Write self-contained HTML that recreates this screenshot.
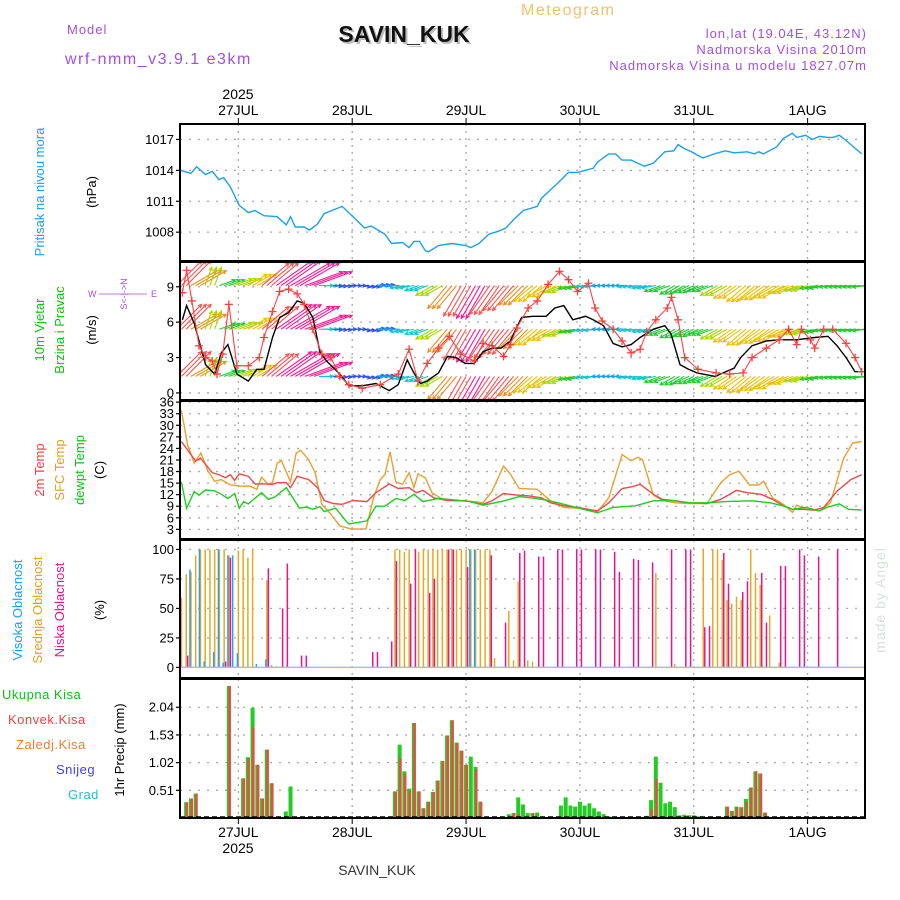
<!DOCTYPE html>
<html><head><meta charset="utf-8"><style>
html,body{margin:0;padding:0;background:#fff;width:900px;height:900px;overflow:hidden}
svg text{font-family:"Liberation Sans",sans-serif}
</style></head><body>
<svg id="chart" width="900" height="900" viewBox="0 0 900 900" xmlns="http://www.w3.org/2000/svg">
<g>
<text x="67" y="34" font-size="13" fill="#a050e0" letter-spacing="1">Model</text>
<text x="65" y="64" font-size="16" fill="#a050e0" letter-spacing="1.5">wrf-nmm_v3.9.1 e3km</text>
<text x="521" y="15" font-size="16" fill="#f0c070" letter-spacing="1.5">Meteogram</text>
<text x="406" y="44" font-size="23" font-weight="bold" fill="#bbb" text-anchor="middle">SAVIN_KUK</text>
<text x="404" y="42" font-size="23" font-weight="bold" fill="#111" text-anchor="middle">SAVIN_KUK</text>
<text x="867" y="38" font-size="13" fill="#a050e0" text-anchor="end" letter-spacing="1">lon,lat (19.04E, 43.12N)</text>
<text x="867" y="54" font-size="13" fill="#a050e0" text-anchor="end" letter-spacing="1">Nadmorska Visina 2010m</text>
<text x="867" y="70" font-size="13" fill="#a050e0" text-anchor="end" letter-spacing="1">Nadmorska Visina u modelu 1827.07m</text>
</g>
<g id="grid"></g>
<g id="series"></g>
<g id="frames"></g>
<g id="labels">
<text transform="translate(44,192) rotate(-90)" font-size="13" fill="#1aa0f0" text-anchor="middle">Pritisak na nivou mora</text>
<text transform="translate(96,192) rotate(-90)" font-size="13" fill="#000" text-anchor="middle">(hPa)</text>
<text transform="translate(44,330) rotate(-90)" font-size="13" fill="#10c010" text-anchor="middle">10m Vjetar</text>
<text transform="translate(64,330) rotate(-90)" font-size="13" fill="#10c010" text-anchor="middle">Brzina i Pravac</text>
<text transform="translate(96,330) rotate(-90)" font-size="13" fill="#000" text-anchor="middle">(m/s)</text>
<text transform="translate(127,294) rotate(-90)" font-size="9" fill="#a050e0" text-anchor="middle">S&lt;-|-&gt;N</text>
<text x="88" y="297" font-size="9" fill="#a050e0">W</text>
<text x="151" y="297" font-size="9" fill="#a050e0">E</text>
<line x1="99" y1="294" x2="147" y2="294" stroke="#a050e0" stroke-width="0.8"/>
<text transform="translate(44,470) rotate(-90)" font-size="13" fill="#f04040" text-anchor="middle">2m Temp</text>
<text transform="translate(64,470) rotate(-90)" font-size="13" fill="#e0a020" text-anchor="middle">SFC Temp</text>
<text transform="translate(84,470) rotate(-90)" font-size="13" fill="#10c010" text-anchor="middle">dewpt Temp</text>
<text transform="translate(104,470) rotate(-90)" font-size="13" fill="#000" text-anchor="middle">(C)</text>
<text transform="translate(22,610) rotate(-90)" font-size="13" fill="#1aa0f0" text-anchor="middle">Visoka Oblacnost</text>
<text transform="translate(42,610) rotate(-90)" font-size="13" fill="#e0a020" text-anchor="middle">Srednja Oblacnost</text>
<text transform="translate(64,610) rotate(-90)" font-size="13" fill="#e0148c" text-anchor="middle">Niska Oblacnost</text>
<text transform="translate(104,610) rotate(-90)" font-size="13" fill="#000" text-anchor="middle">(%)</text>
<text x="2" y="699" font-size="13" fill="#10c010" letter-spacing="0.5">Ukupna Kisa</text>
<text x="8" y="724" font-size="13" fill="#f04040" letter-spacing="0.5">Konvek.Kisa</text>
<text x="16" y="749" font-size="13" fill="#f08030" letter-spacing="0.5">Zaledj.Kisa</text>
<text x="56" y="774" font-size="13" fill="#4040f0" letter-spacing="0.5">Snijeg</text>
<text x="68" y="799" font-size="13" fill="#20c0d0" letter-spacing="0.5">Grad</text>
<text transform="translate(124,750) rotate(-90)" font-size="13" fill="#000" text-anchor="middle">1hr Precip (mm)</text>
<text transform="translate(885,600) rotate(-90)" font-size="14" fill="#d8e0d8" text-anchor="middle" letter-spacing="1">made by Angel</text>
<text x="238" y="99" font-size="14" fill="#000" text-anchor="middle">2025</text>
<text x="238" y="853" font-size="14" fill="#000" text-anchor="middle">2025</text>
<text x="377" y="875" font-size="14" fill="#333" text-anchor="middle" font-family="Liberation Serif, serif">SAVIN_KUK</text>
</g>
</svg>
<script>
// ---- data ----
const dayLabels = ["27JUL","28JUL","29JUL","30JUL","31JUL","1AUG"];
const pressureTicks = [1008,1011,1014,1017];
const pressureHours = [-12.1,-10,-8.8,-6.9,-5.5,-4.1,-3.1,-1.7,0.2,2.1,3.5,5.4,8.2,10.1,11,12,13.9,15,16.7,18.1,21.9,24.2,26.6,28,30.9,32.3,34.6,36,37,38.2,39.4,40.1,42.2,45,47.9,49,50.7,52.8,54.9,56.4,58.2,60.1,63,63.9,65.8,67.2,69.6,71.5,74.8,75.7,78.1,79.5,80.9,82.8,85.6,87.5,89.9,91.8,92.7,94.1,95.5,97.9,100.3,102.6,104.5,107.3,108.8,109.7,110.7,113.5,114.9,116.8,117.7,119.6,121,122.5,124.3,125.3,126.7,128.1,131.4];
const pressureValues = [1014.0,1013.7,1014.35,1013.6,1013.9,1013.1,1013.3,1012.4,1010.6,1009.9,1010.1,1009.6,1009.5,1008.7,1009.5,1008.5,1008.5,1008.2,1008.8,1009.8,1010.5,1009.5,1008.4,1008.6,1007.8,1006.9,1007.0,1006.5,1007.1,1007.1,1006.2,1006.1,1006.7,1006.9,1006.7,1006.5,1006.9,1007.8,1008.1,1008.4,1009.3,1010.1,1010.5,1011.3,1012.1,1012.7,1013.8,1013.8,1014.2,1014.8,1015.6,1015.6,1015.0,1015.0,1014.4,1014.7,1015.8,1015.9,1016.5,1016.1,1015.8,1015.2,1015.6,1015.9,1015.7,1015.8,1015.6,1015.8,1015.6,1016.3,1017.1,1017.6,1017.2,1017.4,1017.0,1017.3,1017.2,1017.2,1017.4,1016.9,1015.6];

const windTicks = [0,3,6,9];
const speedHours = [-11.8,-10.9,-9.3,-6.9,-5,-3.6,-2.2,-0.3,2.1,3.9,5.4,7.2,8.7,10.6,12.4,13.9,15.7,17.2,18.6,21.4,23.3,26.1,29,31.8,33.7,35.6,37,38.4,39.8,42.2,44.1,45.9,47.8,49.7,51.6,53.5,55.4,57.3,59.7,62,64.9,66.7,68.6,70.5,73.2,74.8,77,79,80.9,82.8,84.7,87.5,89.9,91.2,93.1,94.9,96.7,100.5,104.5,105.9,108.3,111.3,114,117.7,121.5,124.3,126.2,128.1,130,131.4];
const speedValues = [6.2,7.4,5.9,2.4,1.6,3.4,4.1,1.6,1.0,2.0,2.0,4.7,6.4,6.8,7.8,7.6,6.4,3.5,2.7,1.6,0.6,0.6,0.8,0.2,0.7,2.8,1.7,0.8,1.0,1.7,3.1,3.0,2.5,2.5,3.5,3.8,3.8,4.4,6.4,6.5,6.5,7.2,7.4,6.2,6.5,6.2,5.7,4.2,3.9,4.1,4.7,5.4,5.7,5.0,2.4,2.0,1.7,1.4,2.1,3.0,4.0,4.4,4.5,4.5,4.7,4.8,4.0,3.0,1.8,1.8];
const gustHours = [-11.8,-10.9,-9.8,-8.3,-6.9,-5.5,-4.5,-3.3,-2,-0.3,2.1,4.4,5.4,7.2,8.7,10.6,12.4,13.9,15.7,17.6,19.5,21.4,23.3,26.1,29.9,33.7,36,37.9,39.8,42.2,44.5,46.9,49.7,51.6,53.5,55.9,57.3,58.7,61.1,63,65.3,67.7,69.6,71.5,73.8,75.2,76.7,79,80.9,82.8,84.7,86.1,88,90.4,91.3,92.7,94.1,96.9,100.7,103.6,106.4,108.3,111.3,114,116,117.7,118.7,120.6,121.5,123.4,125.3,128.1,130,131.4];
const gustValues = [8.5,10.4,7.8,4.0,3.0,2.7,1.6,3.3,7.5,2.3,2.3,3.0,4.7,6.9,8.6,8.8,8.4,7.5,5.4,3.3,3.0,1.4,0.7,0.4,0.7,1.6,3.7,1.0,2.5,3.8,4.8,3.3,2.7,4.2,4.0,3.1,4.1,5.5,7.2,7.8,9.2,10.3,9.6,8.6,9.3,7.2,6.1,5.4,4.4,3.4,3.7,5.2,6.2,7.2,8.1,6.2,3.0,2.0,1.7,1.6,1.7,3.0,3.8,4.5,5.4,4.1,5.4,4.5,3.8,5.4,5.4,4.2,3.0,1.8];
const arrowHours = [-12,-9,-6,-3,0,3,6,9,12,15,18,21,24,27,30,33,36,39,42,45,48,51,54,57,60,63,66,69,72,75,78,81,84,87,90,93,96,99,102,105,108,111,114,117,120,123,126,129,132];
const arrowDirs = [225,240,200,250,250,240,230,235,240,250,270,275,270,280,265,90,80,70,60,40,30,30,35,40,45,50,60,70,80,85,90,90,85,80,70,60,65,70,60,55,50,55,60,70,75,80,85,85,85];
const arrowSpeeds = [12,10,6,5,6,7,12,15,16,14,4,2,2,2,2,3,4,4,6,10,12,13,12,11,9,8,7,6,5,4,3,3,4,4,5,5,5,5,6,7,8,8,8,7,6,5,5,5,5];
const arrowLevels = [1.4,5.4,9.1];

const tempTicks = [3,6,9,12,15,18,21,24,27,30,33,36];
const t2mHours = [-12,-9,-8,-5.5,-4.1,-2.7,-1.7,-0.8,0.2,2.1,3.5,5.4,7.2,8.2,10.1,11,12.4,14.8,16.7,18.1,20,21.9,24.2,27.1,29,31.8,33.7,36,37.5,38.9,41.2,44.1,47.9,51.6,53.5,55.9,57.3,58.7,61.1,63.9,65.8,68.6,71.5,75.7,78.1,80.9,82.8,84.7,87.5,89.4,92.2,95.1,98.8,101.7,105,107.3,110.2,112.6,114.9,116.8,118.7,121.5,123.4,126.2,129.1,131.4];
const t2mValues = [25.8,20.7,21.5,17.7,17.2,16.4,17.2,15.7,17.4,16.8,14.8,14.8,14.7,15.1,15.1,13.8,16.8,15.9,13.8,10.5,9.7,9.5,10.5,10.2,12.5,14.8,13.6,13.8,12.5,13.1,11.2,10.5,10.4,9.5,10.4,12.3,12.1,11.9,11.7,11.2,9.9,9.1,8.7,7.8,9.9,13.6,14.0,14.7,12.1,10.8,10.4,9.9,9.7,10.8,13.1,12.5,12.1,10.8,9.1,8.2,8.2,8.0,8.7,12.9,15.9,17.2];
const sfcHours = [-12,-10.7,-9.3,-7.9,-6.4,-5,-3.6,-1.7,0.6,2.5,3.9,4.9,6.3,7.2,8.2,9.1,11,12.2,13.1,14.8,16.2,17.6,19.5,21.4,23.8,26.9,28.5,29.9,30.9,32,33.2,34.6,36,37,37.9,39.4,40.8,43.1,45.9,49.7,51.6,53.5,55.9,57.3,59.2,63,65.8,68.6,71.5,75.7,78.1,80.9,82.8,84.2,85.2,87.5,89.4,92.2,95.1,98.8,101.7,103.6,105.5,107.8,109.7,110.7,112.6,114.9,116.8,117.7,119.6,122.5,124.8,127.6,129.5,131.4];
const sfcValues = [33.9,24.9,20.2,22.8,18.1,15.5,15.9,14.5,14.2,14.2,13.4,16.5,14.7,15.1,20.2,20.8,15.3,22.8,23.5,21.1,17.7,9.5,6.9,3.9,3.1,3.1,11.2,15.9,17.2,23.1,15.3,14.7,17.7,13.8,17.4,16.4,12.5,10.8,10.5,10.2,9.9,12.9,19.4,17.4,13.6,13.4,10.4,8.7,8.5,7.6,11.2,22.4,20.8,21.7,21.1,11.9,10.5,9.9,9.7,9.7,15.1,17.2,18.1,14.5,14.5,15.5,11.2,9.5,7.4,9.3,8.2,7.8,9.9,21.5,25.4,25.8];
const dewHours = [-12,-10.9,-9.3,-8.3,-6.9,-5,-3.6,-2.2,-0.8,0.2,1.1,2.1,4.9,6.3,7.7,10.1,12.9,14.3,15.7,17.2,18.1,20.5,22.8,23.3,25.2,27.1,29,30.9,33.2,35.1,37,38.9,42.2,45.9,48.8,51.6,55.4,59.2,62,64.9,67.7,70.5,75.7,79,83.7,87.5,91.3,95.1,98.8,102.6,108.3,112.1,114.9,116.8,119.6,122.5,124.3,126.7,128.6,131.4];
const dewValues = [15.3,8.5,12.8,11.9,13.2,13.0,12.1,11.0,12.3,8.5,10.2,9.6,12.5,10.8,11.4,13.8,8.5,8.8,8.2,8.9,7.6,8.5,5.0,4.4,4.8,5.2,9.0,9.0,11.0,10.5,12.1,10.2,11.0,10.6,10.2,9.3,10.2,11.5,11.1,10.6,9.8,8.9,7.3,8.7,9.1,10.4,10.5,9.9,9.9,10.2,10.4,9.9,9.1,8.2,8.7,7.8,8.8,9.6,8.2,8.0];

const cloudTicks = [0,25,50,75,100];
const midCloudHours = [-12,-11,-10,-9,-8,-7,-6,-5,-4,-3,-2,0,1,2,3,6,7,8,33,34,35,36,38,39,40,41,42,43,44,45,46,47,48,49,50,51,52,53,54,57,58,59,61,62,88,92,98,100,101,102,103,104,105,106,108,109,110,112,114];
const midCloudValues = [59,79,81,95,100,100,100,100,100,100,95,99,100,93,100,74,2,1,100,100,98,100,98,100,100,100,100,100,100,100,100,100,100,100,100,100,100,100,8,48,6,73,6,5,80,3,100,100,100,91,57,54,60,57,100,80,70,44,4];
const lowCloudHours = [-11,-3,-2,6,9,10,13,14,28,29,32,33,36,37,40,41,44,45,48,53,56,59,60,63,64,67,68,71,72,75,76,79,80,83,84,87,91,94,95,98,99,102,103,106,107,110,111,114,115,118,119,122,126];
const lowCloudValues = [10,5,93,84,50,88,10,10,13,13,22,90,71,100,63,75,100,100,85,95,38,97,99,94,94,100,100,100,100,100,100,98,81,92,91,89,100,100,100,34,35,97,71,64,73,80,38,86,86,100,95,94,100];
const highCloudHours = [-10,-8,-7,-5,-4,-3,-2,-1,0,4,6,49,50];
const highCloudValues = [83,100,5,13,100,4,95,95,12,3,7,100,100];

const precipTicks = [0.51,1.02,1.53,2.04];
const precipHours = [-11,-10,-9,-2,1,2,3,4,5,6,7,8,10,11,33,34,35,36,37,38,39,40,41,42,43,44,45,46,47,48,49,50,51,57,58,59,60,61,62,63,64,66,67,68,69,70,71,72,73,74,75,76,77,78,86,87,88,89,90,91,92,93,94,95,96,97,103,104,105,106,107,108,109,110,111,112,125];
const totalPrecip = [0.29,0.36,0.45,2.43,0.73,1.12,2.03,0.98,0.36,1.26,0.64,0.02,0.12,0.58,0.49,1.35,0.86,0.54,1.75,0.49,0.18,0.3,0.48,0.69,1.05,1.52,1.8,1.39,1.24,0.98,1.13,0.94,0.3,0.07,0.09,0.38,0.25,0.09,0.09,0.1,0.03,0.02,0.02,0.23,0.38,0.23,0.21,0.3,0.23,0.27,0.18,0.12,0.07,0.03,0.04,0.33,1.13,0.65,0.27,0.3,0.2,0.05,0.06,0.05,0.05,0.03,0.21,0.13,0.21,0.2,0.35,0.56,0.86,0.82,0.1,0.02,0.02];
const convPrecip = [0.29,0.36,0.45,2.43,0.73,1.1,1.67,0.98,0.36,1.26,0.64,0.02,0,0,0.49,1.1,0.8,0.5,1.75,0.49,0.18,0.3,0.48,0.69,1.05,1.52,1.8,1.37,1.24,0.98,0,0.9,0.3,0.02,0.09,0.07,0,0,0.09,0,0,0,0,0,0,0,0,0,0,0,0,0,0,0,0,0.16,0.72,0,0,0,0,0,0,0,0,0,0.21,0.13,0.2,0.18,0.3,0.56,0.86,0.82,0.1,0,0];

// ---- layout ----
const NS="http://www.w3.org/2000/svg";
const X0=180,X1=865,H0=-12.3,H1=132.1;
const xS=h=>X0+(h-H0)/(H1-H0)*(X1-X0);
const panels={
 pres:{top:124,bot:261,min:1005.2,max:1018.5},
 wind:{top:262,bot:400,min:-0.6,max:11.1},
 temp:{top:401,bot:539,min:0.5,max:36.3},
 cloud:{top:540,bot:678,min:-9,max:108},
 precip:{top:679,bot:818,min:0,max:2.56}
};
const yS=(p,v)=>{const P=panels[p];return P.bot-(v-P.min)/(P.max-P.min)*(P.bot-P.top);};
const gGrid=document.getElementById('grid'),gS=document.getElementById('series'),gF=document.getElementById('frames');
function mk(tag,attrs,parent){const e=document.createElementNS(NS,tag);for(const k in attrs)e.setAttribute(k,attrs[k]);parent.appendChild(e);return e;}
const dayHours=[0,24,48,72,96,120];

const defs=mk('defs',{},document.getElementById('chart'));
for(const p in panels){const cp=mk('clipPath',{id:'clip-'+p},defs);const P=panels[p];mk('rect',{x:X0,y:P.top,width:X1-X0,height:P.bot-P.top},cp);}

function yTicks(p,ticks,fmt){
 ticks.forEach(t=>{
  const y=yS(p,t);
  const gl=mk('line',{x1:X0,x2:X1,y1:y,y2:y,stroke:'#aaa','stroke-width':1.3,'stroke-dasharray':'2,7'},gGrid);
  
  
  const tk=mk('line',{x1:X0-4,x2:X0,y1:y,y2:y,stroke:'#000','stroke-width':1.2},gF);
  
  
  const tx=mk('text',{x:X0-6,y:y+4.5,'font-size':13,'text-anchor':'end',fill:'#000'},gF);
  tx.textContent=fmt?fmt(t):t;
  
  
 });
}
for(const p in panels){
 const P=panels[p];
 dayHours.forEach(h=>{
  const vl=mk('line',{x1:xS(h),x2:xS(h),y1:P.top,y2:P.bot,stroke:'#aaa','stroke-width':1.3,'stroke-dasharray':'2,5'},gGrid);
  
  
 });
 const fr=mk('rect',{x:X0,y:P.top,width:X1-X0,height:P.bot-P.top,fill:'none',stroke:'#000','stroke-width':2},gF);
 
 
}
yTicks('pres',pressureTicks);
yTicks('wind',windTicks);
yTicks('temp',tempTicks);
yTicks('cloud',cloudTicks);
yTicks('precip',precipTicks,t=>t.toFixed(2));
dayHours.forEach((h,i)=>{
 const x=xS(h);
 mk('line',{x1:x,x2:x,y1:118,y2:124,stroke:'#000'},gF);
 mk('line',{x1:x,x2:x,y1:818,y2:824,stroke:'#000'},gF);
 const t1=mk('text',{x:x,y:115,'font-size':14,'text-anchor':'middle'},gF);t1.textContent=dayLabels[i];
 
 
 const t2=mk('text',{x:x,y:837,'font-size':14,'text-anchor':'middle'},gF);t2.textContent=dayLabels[i];
 
 
});

function line(p,hours,vals,color,name,w){
 const d=hours.map((h,i)=>(i?'L':'M')+xS(h).toFixed(1)+','+yS(p,vals[i]).toFixed(1)).join('');
 const e=mk('path',{d:d,fill:'none',stroke:color,'stroke-width':w||1.4,'clip-path':'url(#clip-'+p+')'},gS);
 
 
 return e;
}
line('pres',pressureHours,pressureValues,'#1aa0f0','pressure-line');

const spdColor=s=>s<2?'#8a2be2':s<3?'#3050f0':s<4?'#10a0f0':s<5?'#10c8d0':s<6?'#20cc30':s<7?'#a8d800':s<9?'#f0c000':s<11?'#f08c20':s<13?'#ff5050':'#ff1493';
const ga=mk('g',{'clip-path':'url(#clip-wind)'},gS);


arrowLevels.forEach(lv=>{
 arrowHours.forEach((h,i)=>{
  for(let k=-1;k<=1;k++){
   const s=arrowSpeeds[i],dir=(arrowDirs[i]+180)*Math.PI/180;
   const L=4+s*2.6,x=xS(h+k),y=yS('wind',lv);
   const ex=x+Math.sin(dir)*L,ey=y-Math.cos(dir)*L;
   const a=Math.atan2(ey-y,ex-x);
   const c=spdColor(s);
   const ar=mk('path',{d:`M${x},${y}L${ex},${ey}M${ex-4*Math.cos(a-0.45)},${ey-4*Math.sin(a-0.45)}L${ex},${ey}L${ex-4*Math.cos(a+0.45)},${ey-4*Math.sin(a+0.45)}`,stroke:c,'stroke-width':1.1,fill:'none'},ga);
   
   
  }
 });
});
line('wind',speedHours,speedValues,'#000','wind-speed-line',1.4);
line('wind',gustHours,gustValues,'#ff4040','wind-gust-line',1.1);
const gc=mk('g',{'clip-path':'url(#clip-wind)'},gS);


gustHours.forEach((h,i)=>{
 const x=xS(h),y=yS('wind',gustValues[i]);
 const m=mk('path',{d:`M${x-4},${y}L${x+4},${y}M${x},${y-4}L${x},${y+4}`,stroke:'#ff4040','stroke-width':1.3},gc);
 
 
});

line('temp',sfcHours,sfcValues,'#e8a030','sfc-temp-line');
line('temp',t2mHours,t2mValues,'#f04848','temp-2m-line');
line('temp',dewHours,dewValues,'#20cc20','dewpoint-line');

function cloudBars(hours,vals,color,off,name){
 hours.forEach((h,i)=>{
  const x=xS(h)+off;
  const b=mk('rect',{x:x-0.7,y:yS('cloud',vals[i]),width:1.5,height:yS('cloud',0)-yS('cloud',vals[i]),fill:color},gS);
  
  
 });
}
cloudBars(midCloudHours,midCloudValues,'#e6a828',0,'mid-cloud-bar');
cloudBars(lowCloudHours,lowCloudValues,'#e8148c',1.5,'low-cloud-bar');
cloudBars(highCloudHours,highCloudValues,'#2aa0f0',-1,'high-cloud-bar');
const cb=mk('line',{x1:X0,x2:X1,y1:yS('cloud',0),y2:yS('cloud',0),stroke:'#8cc8e8','stroke-width':1.5},gS);



precipHours.forEach((h,i)=>{
 const x=xS(h),y0=yS('precip',0);
 const g=mk('rect',{x:x-2,y:yS('precip',totalPrecip[i]),width:4,height:y0-yS('precip',totalPrecip[i]),fill:'#22cc22'},gS);
 
 
 if(convPrecip[i]>0){
  const r=mk('rect',{x:x-0.5,y:yS('precip',convPrecip[i]),width:2.5,height:y0-yS('precip',convPrecip[i]),fill:'#f04848'},gS);
  
  
 }
});
const pb=mk('line',{x1:X0,x2:X1,y1:817,y2:817,stroke:'#000','stroke-width':1.5,'stroke-dasharray':'5,3'},gS);


</script>
</body></html>
